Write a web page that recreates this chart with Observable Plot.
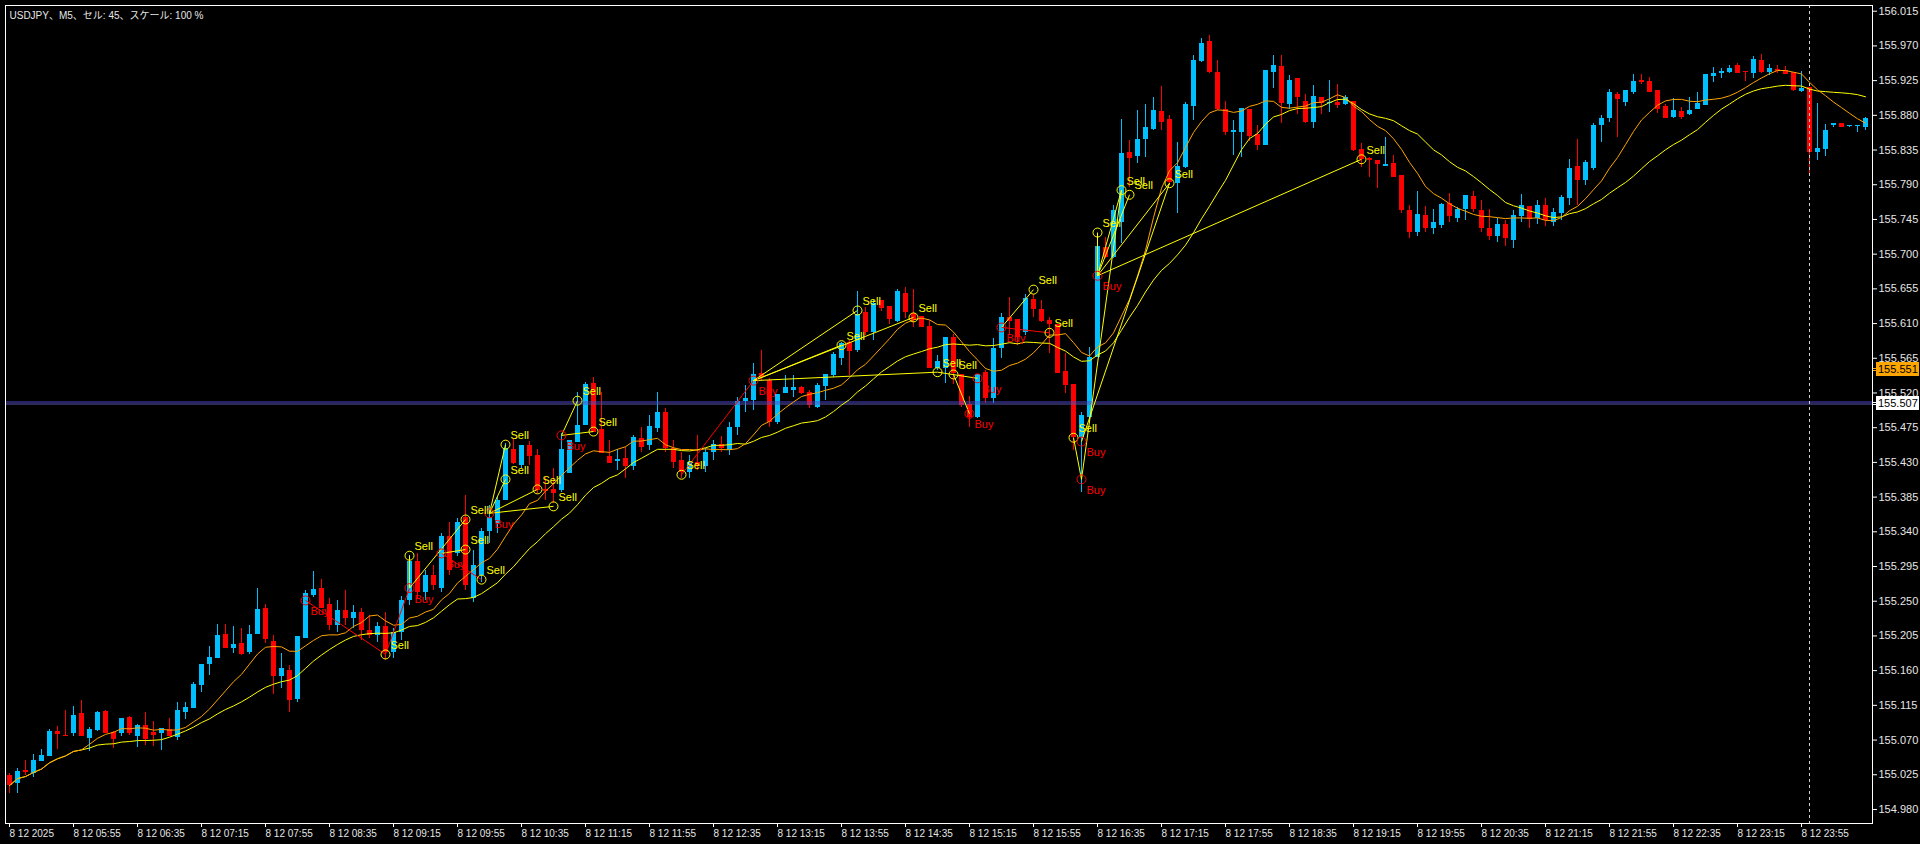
<!DOCTYPE html>
<html><head><meta charset="utf-8">
<script src="https://cdn.jsdelivr.net/npm/d3@7"></script>
<script src="https://cdn.jsdelivr.net/npm/@observablehq/plot@0.6"></script>
<style>html,body{margin:0;padding:0;background:#000;overflow:hidden}</style>
</head><body><div id="chart"></div>
<script>
const title = "USDJPY、M5、セル: 45、スケール: 100 %";

const opens = [
155.024,155.014,155.031,155.027,155.042,155.049,155.081,155.076,155.079,155.105,
155.072,155.082,155.107,155.080,155.079,155.099,155.075,155.089,155.080,155.079,
155.084,155.073,155.106,155.111,155.141,155.168,155.176,155.207,155.189,155.195,
155.184,155.207,155.241,155.198,155.152,155.160,155.123,155.202,155.257,155.267,
155.246,155.219,155.238,155.228,155.235,155.212,155.206,155.217,155.184,155.209,
155.251,155.302,155.261,155.283,155.267,155.334,155.312,155.359,155.254,155.283,
155.340,155.351,155.381,155.447,155.426,155.452,155.439,155.395,155.395,155.394,
155.416,155.456,155.478,155.532,155.473,155.438,155.431,155.435,155.425,155.461,
155.452,155.474,155.495,155.448,155.433,155.417,155.430,155.425,155.443,155.453,
155.445,155.475,155.509,155.510,155.545,155.536,155.482,155.519,155.523,155.527,
155.521,155.501,155.528,155.543,155.565,155.586,155.575,155.624,155.598,155.640,
155.632,155.613,155.649,155.623,155.619,155.606,155.552,155.552,155.592,155.544,
155.505,155.488,155.547,155.513,155.578,155.618,155.615,155.598,155.641,155.628,
155.614,155.609,155.548,155.531,155.462,155.488,155.566,155.709,155.696,155.741,
155.832,155.827,155.849,155.862,155.885,155.875,155.792,155.812,155.892,155.950,
155.976,155.936,155.888,155.858,155.858,155.888,155.855,155.841,155.936,155.943,
155.894,155.928,155.898,155.871,155.903,155.895,155.897,155.894,155.898,155.836,
155.824,155.821,155.814,155.818,155.802,155.757,155.728,155.750,155.733,155.737,
155.766,155.746,155.758,155.775,155.757,155.733,155.723,155.739,155.718,155.749,
155.762,155.746,155.763,155.741,155.753,155.772,155.814,155.796,155.811,155.867,
155.876,155.907,155.897,155.910,155.925,155.924,155.912,155.892,155.877,155.885,
155.881,155.888,155.893,155.930,155.934,155.936,155.945,155.937,155.934,155.951,
155.936,155.939,155.938,155.936,155.911,155.916,155.832,155.836,155.868,155.869,
155.866,155.866,155.864];

const highs = [
155.027,155.033,155.044,155.051,155.058,155.084,155.088,155.108,155.114,155.121,
155.086,155.107,155.108,155.081,155.098,155.101,155.090,155.106,155.094,155.085,
155.098,155.119,155.119,155.145,155.168,155.191,155.220,155.220,155.217,155.215,
155.219,155.267,155.246,155.206,155.182,155.167,155.204,155.264,155.289,155.278,
155.254,155.251,155.264,155.245,155.241,155.232,155.222,155.235,155.215,155.256,
155.309,155.312,155.290,155.296,155.338,155.352,155.357,155.387,155.316,155.344,
155.374,155.385,155.455,155.461,155.452,155.457,155.447,155.410,155.422,155.468,
155.459,155.521,155.534,155.540,155.521,155.459,155.447,155.449,155.465,155.475,
155.491,155.521,155.500,155.459,155.443,155.439,155.465,155.448,155.459,155.464,
155.482,155.514,155.530,155.558,155.575,155.539,155.510,155.543,155.543,155.528,
155.523,155.532,155.544,155.573,155.586,155.588,155.652,155.631,155.640,155.640,
155.632,155.654,155.657,155.654,155.619,155.614,155.569,155.592,155.596,155.544,
155.515,155.544,155.549,155.591,155.623,155.644,155.615,155.648,155.648,155.640,
155.618,155.609,155.571,155.531,155.495,155.579,155.710,155.722,155.763,155.875,
155.847,155.886,155.894,155.903,155.917,155.880,155.845,155.897,155.958,155.980,
155.984,155.951,155.898,155.873,155.889,155.888,155.867,155.938,155.958,155.958,
155.932,155.928,155.907,155.919,155.903,155.925,155.920,155.906,155.898,155.844,
155.825,155.821,155.851,155.828,155.802,155.763,155.781,155.762,155.758,155.766,
155.779,155.761,155.776,155.781,155.770,155.758,155.746,155.744,155.757,155.777,
155.762,155.770,155.772,155.759,155.776,155.823,155.849,155.821,155.869,155.880,
155.914,155.910,155.912,155.933,155.933,155.929,155.912,155.894,155.902,155.890,
155.903,155.910,155.933,155.942,155.941,155.945,155.947,155.937,155.956,155.959,
155.946,155.945,155.943,155.936,155.937,155.916,155.895,155.868,155.869,155.869,
155.867,155.867,155.877];

const lows = [
155.001,155.001,155.024,155.022,155.042,155.049,155.058,155.075,155.075,155.075,
155.055,155.081,155.079,155.059,155.075,155.076,155.060,155.063,155.062,155.056,
155.075,155.069,155.097,155.111,155.132,155.154,155.176,155.189,155.182,155.180,
155.181,155.207,155.195,155.129,155.137,155.106,155.119,155.202,155.255,155.241,
155.212,155.209,155.219,155.215,155.199,155.202,155.197,155.173,155.176,155.199,
155.245,155.254,155.251,155.264,155.261,155.283,155.308,155.264,155.248,155.274,
155.325,155.338,155.381,155.427,155.422,155.426,155.390,155.381,155.377,155.391,
155.416,155.456,155.478,155.469,155.441,155.429,155.420,155.409,155.420,155.443,
155.445,155.469,155.443,155.422,155.409,155.409,155.420,155.417,155.433,155.443,
155.439,155.465,155.495,155.497,155.536,155.475,155.479,155.519,155.514,155.518,
155.500,155.500,155.510,155.540,155.556,155.543,155.573,155.595,155.588,155.626,
155.609,155.611,155.617,155.605,155.605,155.552,155.549,155.532,155.531,155.501,
155.475,155.487,155.506,155.506,155.565,155.595,155.582,155.595,155.618,155.611,
155.571,155.545,155.519,155.445,155.391,155.480,155.566,155.694,155.694,155.714,
155.787,155.818,155.825,155.860,155.860,155.789,155.753,155.811,155.873,155.949,
155.934,155.886,155.854,155.828,155.825,155.846,155.834,155.841,155.915,155.869,
155.888,155.881,155.869,155.863,155.881,155.884,155.889,155.893,155.833,155.812,
155.799,155.785,155.814,155.799,155.753,155.720,155.723,155.728,155.726,155.733,
155.741,155.741,155.744,155.754,155.728,155.718,155.715,155.710,155.707,155.741,
155.733,155.739,155.736,155.736,155.744,155.763,155.763,155.789,155.809,155.845,
155.871,155.851,155.892,155.907,155.920,155.910,155.882,155.876,155.876,155.875,
155.880,155.888,155.893,155.923,155.928,155.934,155.934,155.924,155.928,155.934,
155.932,155.934,155.933,155.911,155.910,155.805,155.821,155.827,155.864,155.864,
155.864,155.858,155.860];

const closes = [
155.011,155.029,155.028,155.044,155.050,155.081,155.077,155.075,155.102,155.075,
155.084,155.106,155.079,155.071,155.098,155.079,155.089,155.071,155.076,155.085,
155.075,155.108,155.112,155.142,155.168,155.177,155.206,155.189,155.194,155.181,
155.207,155.239,155.200,155.152,155.163,155.121,155.204,155.260,155.265,155.241,
155.219,155.238,155.228,155.235,155.212,155.206,155.217,155.184,155.209,155.251,
155.302,155.261,155.283,155.270,155.334,155.290,155.352,155.270,155.296,155.340,
155.359,155.381,155.448,155.429,155.452,155.438,155.394,155.392,155.390,155.447,
155.459,155.478,155.531,155.469,155.441,155.429,155.434,155.425,155.462,155.449,
155.477,155.495,155.448,155.430,155.417,155.430,155.425,155.443,155.453,155.448,
155.475,155.509,155.513,155.544,155.540,155.482,155.518,155.527,155.527,155.519,
155.504,155.530,155.544,155.570,155.584,155.574,155.622,155.598,155.636,155.630,
155.615,155.652,155.624,155.614,155.605,155.552,155.561,155.592,155.545,155.504,
155.488,155.544,155.513,155.578,155.618,155.613,155.592,155.643,155.628,155.613,
155.609,155.545,155.530,155.462,155.491,155.566,155.710,155.696,155.757,155.831,
155.824,155.849,155.864,155.886,155.871,155.793,155.814,155.894,155.951,155.973,
155.936,155.888,155.858,155.860,155.889,155.853,155.841,155.938,155.945,155.895,
155.925,155.903,155.871,155.904,155.895,155.897,155.893,155.903,155.834,155.823,
155.821,155.816,155.816,155.799,155.757,155.728,155.751,155.733,155.741,155.764,
155.749,155.758,155.776,155.758,155.733,155.723,155.739,155.720,155.750,155.763,
155.745,155.763,155.744,155.754,155.774,155.811,155.796,155.819,155.867,155.876,
155.910,155.901,155.912,155.924,155.923,155.910,155.888,155.876,155.886,155.877,
155.886,155.895,155.933,155.934,155.937,155.941,155.934,155.936,155.952,155.936,
155.941,155.937,155.933,155.912,155.915,155.832,155.837,155.860,155.869,155.864,
155.867,155.867,155.876];

// time axis labels (bar index -> label)
const xTickIndex = [0,8,16,24,32,40,48,56,64,72,80,88,96,104,112,120,128,136,144,152,160,168,176,184,192,200,208,216,224];
const xTickLabels = ["8 12 2025","8 12 05:55","8 12 06:35","8 12 07:15","8 12 07:55","8 12 08:35","8 12 09:15","8 12 09:55","8 12 10:35","8 12 11:15","8 12 11:55","8 12 12:35","8 12 13:15","8 12 13:55","8 12 14:35","8 12 15:15","8 12 15:55","8 12 16:35","8 12 17:15","8 12 17:55","8 12 18:35","8 12 19:15","8 12 19:55","8 12 20:35","8 12 21:15","8 12 21:55","8 12 22:35","8 12 23:15","8 12 23:55"];

const yTicks = [154.980,155.025,155.070,155.115,155.160,155.205,155.250,155.295,155.340,155.385,155.430,155.475,155.520,155.565,155.610,155.655,155.700,155.745,155.790,155.835,155.880,155.925,155.970,156.015];
const yDomain = [154.9618, 156.0224];

// signal arrows (bar index, price, kind)
const sigIndex = [37,47,50,50,54,57,57,59,60,62,62,66,68,69,71,73,84,93,104,106,113,116,118,120,121,124,128,130,133,134,134,136,136,139,140,145,169];
const sigPrice = [155.251,155.181,155.309,155.267,155.312,155.356,155.317,155.278,155.364,155.453,155.408,155.395,155.373,155.465,155.510,155.470,155.414,155.536,155.582,155.627,155.618,155.547,155.544,155.493,155.539,155.605,155.654,155.598,155.462,155.457,155.408,155.672,155.728,155.783,155.777,155.792,155.823];
const sigType = ["Buy","Sell","Sell","Buy","Buy","Sell","Sell","Sell","Buy","Sell","Sell","Sell","Sell","Buy","Sell","Sell","Sell","Buy","Sell","Sell","Sell","Sell","Sell","Buy","Buy","Buy","Sell","Sell","Sell","Buy","Buy","Buy","Sell","Sell","Sell","Sell","Sell"];

// trade lines: from signal -> to signal
const tradeFrom = [0,1,3,3,4,4,8,8,8,8,13,13,16,17,17,17,17,21,22,25,25,28,31,31,31,31,31,30,29];
const tradeTo   = [1,3,2,5,6,7,9,10,11,12,14,15,17,18,19,20,21,24,23,26,27,30,32,33,34,35,36,33,35];

const hLineLevel = [155.507];
const bidLevel = 155.551;
const separatorIndex = [225];
const maFast = 10, maSlow = 20;

const BULL = "#00bfff", BEAR = "#ff0000", YEL = "#ffff00", ORG = "#ffa500";

const bars = opens.map((o, i) => ({i, o, h: highs[i], l: lows[i], c: closes[i]}));
const sigs = sigIndex.map((x, k) => ({x, p: sigPrice[k], t: sigType[k]}));
const trades = tradeFrom.map((f, k) => {
  const a = sigs[f], b = sigs[tradeTo[k]];
  const win = a.t === "Buy" ? b.p >= a.p : b.p <= a.p;
  return {x1: a.x, y1: a.p, x2: b.x, y2: b.p, col: win ? YEL : BEAR};
});
const labelOf = new Map(xTickIndex.map((d, k) => [d, xTickLabels[k]]));
const half = 0.3125;
const col = d => d.c >= d.o ? BULL : BEAR;

const chart = Plot.plot({
  width: 1920, height: 844,
  marginTop: 5, marginBottom: 21, marginLeft: 5, marginRight: 48,
  style: {background: "#000", color: "#e6e6e6", fontFamily: "'Liberation Sans', Arial, 'Noto Sans CJK JP', sans-serif", fontSize: "11px"},
  x: {domain: [-0.5, bars.length - 0.125], axis: null},
  y: {domain: yDomain, axis: null},
  marks: [
    Plot.ruleX(bars, {x: "i", y1: "l", y2: "h", stroke: col, strokeWidth: 1, shapeRendering: "crispEdges"}),
    Plot.rect(bars, {x1: d => d.i - half, x2: d => d.i + half, y1: "o", y2: "c", fill: col, shapeRendering: "crispEdges"}),
    Plot.ruleY(bars, {filter: d => Math.abs(d.o - d.c) < 0.0014, y: d => (d.o + d.c) / 2, x1: d => d.i - half, x2: d => d.i + half, stroke: col, shapeRendering: "crispEdges"}),
    Plot.ruleY(hLineLevel, {stroke: "#4b46c8", dy: -1}),
    Plot.ruleY(hLineLevel, {stroke: "#5a55b4", dy: 1}),
    Plot.ruleX(separatorIndex, {stroke: "#d0d0d0", strokeDasharray: "3,3"}),
    Plot.lineY(bars, Plot.windowY({k: maSlow, anchor: "end", reduce: "mean"}, {x: "i", y: "c", stroke: YEL, strokeWidth: 1})),
    Plot.lineY(bars, Plot.windowY({k: maFast, anchor: "end", reduce: "mean"}, {x: "i", y: "c", stroke: ORG, strokeWidth: 1})),
    Plot.link(trades, {x1: "x1", y1: "y1", x2: "x2", y2: "y2", stroke: "col", strokeWidth: 1}),
    Plot.dot(sigs, {x: "x", y: "p", r: 4.5, stroke: d => d.t === "Buy" ? BEAR : YEL, fill: "none", strokeWidth: 1}),
    Plot.text(sigs, {filter: d => d.t === "Sell", x: "x", y: "p", text: "t", dx: 5, dy: -9, textAnchor: "start", fill: YEL, fontSize: 11}),
    Plot.text(sigs, {filter: d => d.t === "Buy", x: "x", y: "p", text: "t", dx: 5, dy: 11, textAnchor: "start", fill: BEAR, fontSize: 11}),
    Plot.frame({stroke: "#ffffff"}),
    Plot.text([title], {text: d => d, frameAnchor: "top-left", dx: 4, dy: 6, lineAnchor: "top", textAnchor: "start", fill: "#e6e6e6", fontSize: 10}),
    Plot.axisY(yTicks, {anchor: "right", tickFormat: d => d.toFixed(3), tickSize: 4, tickPadding: 2, stroke: "#ffffff", fill: "#e6e6e6", fontSize: 11, label: null}),
    Plot.axisX(xTickIndex, {anchor: "bottom", tickFormat: d => labelOf.get(d), textAnchor: "start", tickSize: 4, tickPadding: 2, stroke: "#ffffff", fill: "#e6e6e6", fontSize: 10, label: null})
  ]
});
document.getElementById("chart").append(chart);

// price tags on the right axis
const ys = chart.scale("y"), xs = chart.scale("x");
const xr = xs.range[1];
const svg = d3.select(chart);
function tag(p, bg) {
  const yy = Math.round(ys.apply(p));
  const g = svg.append("g");
  g.append("rect").attr("x", xr + 4).attr("y", yy - 7).attr("width", 43).attr("height", 14).attr("fill", bg);
  g.append("line").attr("x1", xr + 1).attr("x2", xr + 4).attr("y1", yy - 0.5).attr("y2", yy - 0.5).attr("stroke", bg);
  g.append("line").attr("x1", xr + 1).attr("x2", xr + 4).attr("y1", yy + 1.5).attr("y2", yy + 1.5).attr("stroke", bg);
  g.append("text").attr("x", xr + 6).attr("y", yy).attr("dy", "0.36em").attr("fill", "#000")
    .attr("text-anchor", "start")
    .attr("font-size", 11).attr("font-family", "'Liberation Sans', Arial, sans-serif").text(p.toFixed(3));
}
tag(bidLevel, "#ffa500");
tag(hLineLevel[0], "#ffffff");
</script>
</body></html>
